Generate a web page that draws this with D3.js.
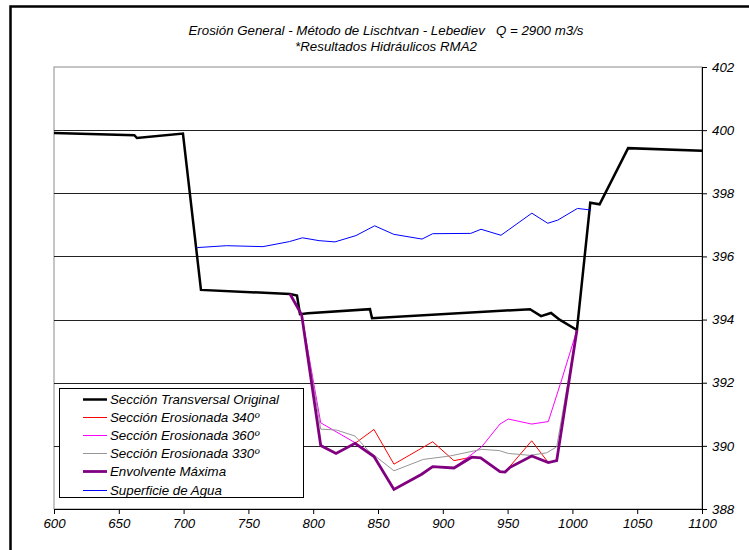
<!DOCTYPE html>
<html>
<head>
<meta charset="utf-8">
<script src="https://cdn.jsdelivr.net/npm/d3@7"></script>
<style>
  html, body { margin: 0; padding: 0; background: #fff; }
  svg { display: block; }
  text { font-family: "Liberation Sans", Arial, sans-serif; font-style: italic; font-size: 13.3px; fill: #000; white-space: pre; }
</style>
</head>
<body>
<svg id="chart" width="749" height="550"></svg>
<script>
// Perfil transversal: abscisa (m) y cota (m.s.n.m.)
const xTicks = [600, 650, 700, 750, 800, 850, 900, 950, 1000, 1050, 1100];
const yTicks = [388, 390, 392, 394, 396, 398, 400, 402];

const seccionOriginalX = [600, 662, 664, 699.5, 713.4, 782.1, 787.5, 789.8, 796, 843.8, 845.4, 967.3, 975.8, 983.5, 990.4, 1003.5, 1013.8, 1021, 1043, 1100];
const seccionOriginalY = [399.91, 399.84, 399.75, 399.89, 394.94, 394.81, 394.76, 394.17, 394.2, 394.33, 394.04, 394.33, 394.11, 394.21, 393.99, 393.67, 397.70, 397.65, 399.43, 399.35];

const erosion340X = [782.1, 791.1, 805.8, 817.6, 832.3, 846.9, 862.3, 892.2, 908.6, 917, 922.3, 929.2, 944.1, 948, 968.6, 981.4, 987.9, 1003.5];
const erosion340Y = [394.81, 394.15, 390.01, 389.76, 390.08, 390.52, 389.42, 390.13, 389.53, 389.6, 389.64, 389.62, 389.18, 389.17, 390.16, 389.47, 389.53, 393.67];

const erosion360X = [782.1, 791.1, 805.8, 832.3, 846.9, 862.3, 883.7, 892.2, 908.6, 930, 944.1, 950.5, 968.6, 981.4, 991.7, 1003.5];
const erosion360Y = [394.81, 394.15, 390.73, 390.10, 389.66, 388.62, 389.10, 389.34, 389.30, 389.97, 390.69, 390.85, 390.69, 390.77, 392.09, 393.67];

const erosion330X = [782.1, 791.1, 805.8, 818.1, 832.3, 842.5, 862.3, 884.9, 905.6, 930, 943.6, 950.5, 967.3, 980.2, 987.9, 1003.5];
const erosion330Y = [394.81, 394.15, 390.53, 390.50, 390.31, 389.85, 389.21, 389.57, 389.68, 389.89, 389.85, 389.76, 389.70, 389.78, 389.97, 393.67];

const envolventeX = [782.1, 791.1, 805.8, 817.6, 832.3, 846.9, 862.3, 883.7, 892.2, 908.6, 922.3, 929.2, 944.1, 948, 951.9, 968.6, 981.4, 987.9, 1003.5];
const envolventeY = [394.81, 394.15, 390.01, 389.76, 390.08, 389.66, 388.62, 389.10, 389.34, 389.30, 389.64, 389.62, 389.18, 389.17, 389.32, 389.68, 389.47, 389.53, 393.67];

const aguaX = [710.5, 733.2, 761.2, 781.7, 791.7, 804.5, 816.8, 833, 847.4, 862.2, 884, 892.2, 921.6, 929.5, 944.9, 968.7, 981, 988.7, 1003.9, 1014.4];
const aguaY = [396.28, 396.34, 396.31, 396.47, 396.59, 396.50, 396.46, 396.66, 396.97, 396.70, 396.55, 396.72, 396.73, 396.86, 396.67, 397.37, 397.05, 397.15, 397.52, 397.47];

const seriesNames = ["Sección Transversal Original", "Sección Erosionada 340º", "Sección Erosionada 360º", "Sección Erosionada 330º", "Envolvente Máxima", "Superficie de Agua"];
const titleLines = ["Erosión General - Método de Lischtvan - Lebediev   Q = 2900 m3/s", "*Resultados Hidráulicos RMA2"];

const zip = (xs, ys) => xs.map((v, i) => [v, ys[i]]);

const series = [
  { name: seriesNames[0], pts: zip(seccionOriginalX, seccionOriginalY), color: "#000000", width: 2.5 },
  { name: seriesNames[1], pts: zip(erosion340X, erosion340Y), color: "#ff0000", width: 1 },
  { name: seriesNames[2], pts: zip(erosion360X, erosion360Y), color: "#ff00ff", width: 1 },
  { name: seriesNames[3], pts: zip(erosion330X, erosion330Y), color: "#969696", width: 1 },
  { name: seriesNames[4], pts: zip(envolventeX, envolventeY), color: "#800080", width: 2.8 },
  { name: seriesNames[5], pts: zip(aguaX, aguaY), color: "#0000ff", width: 1 }
];

const svg = d3.select("#chart");
const plotLeft = 54, plotRight = 702, plotTop = 67, plotBottom = 509;

const x = d3.scaleLinear().domain([600, 1100]).range([plotLeft, plotRight]);
const y = d3.scaleLinear().domain([388, 402]).range([plotBottom, plotTop]);

// Marco exterior
svg.append("path")
  .attr("d", `M10.5,560 L10.5,6.5 L760,6.5`)
  .attr("fill", "none").attr("stroke", "#000").attr("stroke-width", 2.5);

// Título
const title = svg.append("text").attr("text-anchor", "middle").attr("xml:space", "preserve");
titleLines.forEach((t, i) => {
  title.append("tspan").attr("x", 386).attr("y", 35 + i * 16).text(t);
});

// Área de trazado
svg.append("rect")
  .attr("x", plotLeft).attr("y", plotTop).attr("width", plotRight - plotLeft).attr("height", plotBottom - plotTop)
  .attr("fill", "#fff").attr("stroke", "#8c8c8c").attr("stroke-width", 1);

// Líneas de división horizontales
svg.append("g").selectAll("line")
  .data(yTicks.filter(d => d > 388 && d < 402))
  .join("line")
  .attr("x1", plotLeft).attr("x2", plotRight)
  .attr("y1", d => Math.round(y(d)) + 0.5).attr("y2", d => Math.round(y(d)) + 0.5)
  .attr("stroke", "#222").attr("stroke-width", 1);

// Ejes
const xAxis = d3.axisBottom(x).tickValues(xTicks).tickFormat(d3.format("d")).tickSize(5).tickPadding(3);
const gx = svg.append("g").attr("transform", `translate(0,${plotBottom})`).call(xAxis);
gx.select(".domain").attr("stroke", "#000");
gx.selectAll("text").attr("font-size", null).attr("font-family", null).attr("dy", "0.8em");

const yAxis = d3.axisRight(y).tickValues(yTicks).tickFormat(d3.format("d")).tickSize(5).tickPadding(5);
const gy = svg.append("g").attr("transform", `translate(${plotRight},0)`).call(yAxis);
gy.select(".domain").attr("stroke", "#000");
gy.selectAll("text").attr("font-size", null).attr("font-family", null);

// Series
const line = d3.line().x(d => x(d[0])).y(d => y(d[1]));
svg.append("g").selectAll("path")
  .data(series)
  .join("path")
  .attr("d", d => line(d.pts))
  .attr("fill", "none")
  .attr("stroke", d => d.color)
  .attr("stroke-width", d => d.width)
  .attr("stroke-linejoin", "miter");

// Leyenda
const lg = svg.append("g");
lg.append("rect")
  .attr("x", 59.5).attr("y", 388.5).attr("width", 244).attr("height", 109)
  .attr("fill", "#fff").attr("stroke", "#000").attr("stroke-width", 1);
series.forEach((s, i) => {
  const cy = Math.round(399 + i * 18.1) + 0.5;
  lg.append("line")
    .attr("x1", 83).attr("x2", 107).attr("y1", cy).attr("y2", cy)
    .attr("stroke", s.color).attr("stroke-width", s.width);
  lg.append("text").attr("x", 110).attr("y", cy).attr("dy", "0.35em").text(s.name);
});
</script>
</body>
</html>
